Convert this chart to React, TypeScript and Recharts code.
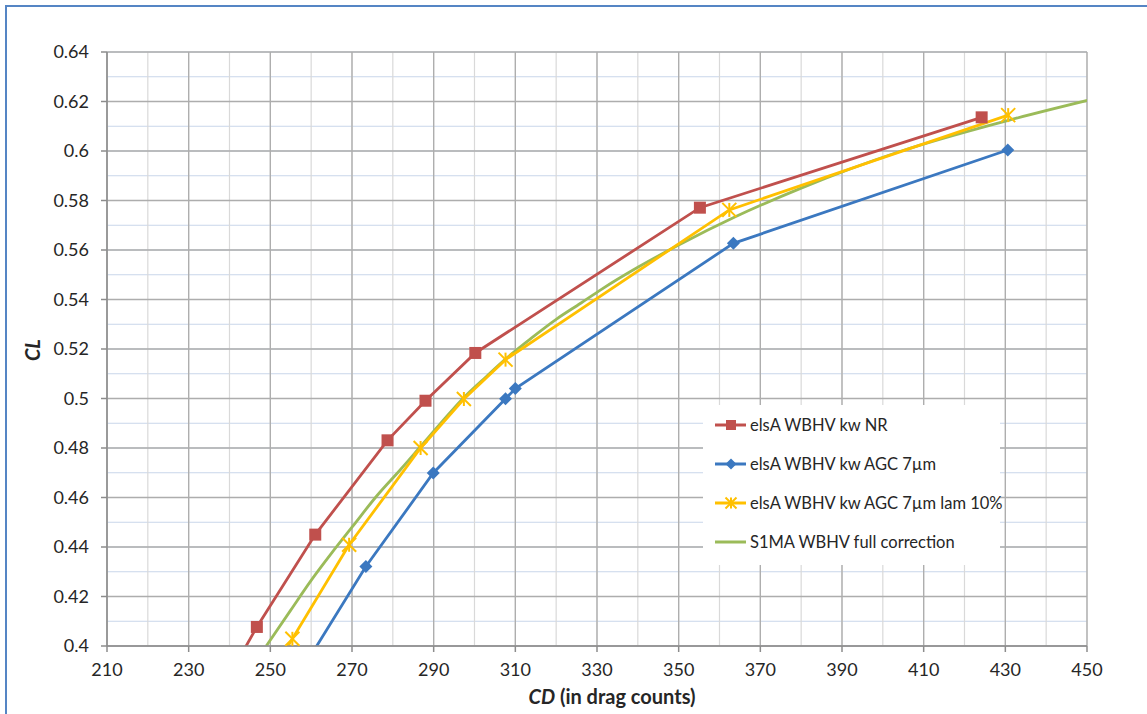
import React from "react";
import { CartesianGrid, Label, Legend, Line, LineChart, XAxis, YAxis } from "recharts";

// CD (drag counts) / CL pairs; first point of each marked series sits below 0.4 and is clipped
const nrCD = [233.8, 246.7, 261.0, 278.7, 288.0, 300.2, 355.2, 424.2];
const nrCL = [0.37, 0.4077, 0.445, 0.4831, 0.4991, 0.5184, 0.5771, 0.6136];

const agcCD = [250.1, 273.4, 289.9, 307.6, 310.0, 363.4, 430.6];
const agcCL = [0.37, 0.4321, 0.4699, 0.4999, 0.504, 0.5627, 0.6004];

const lamCD = [243.3, 255.4, 269.3, 286.8, 297.4, 307.6, 362.4, 430.7];
const lamCL = [0.37, 0.4029, 0.4409, 0.48, 0.4998, 0.5157, 0.5762, 0.6145];

const s1maCD = [249.0, 255, 260, 265, 270, 276, 282, 287, 292, 297, 303, 308, 314, 320, 326, 331, 340, 350, 364, 380, 404, 431, 450.5];
const s1maCL = [0.4, 0.4145, 0.4265, 0.4375, 0.448, 0.4605, 0.4715, 0.481, 0.4905, 0.4997, 0.509, 0.5165, 0.5245, 0.532, 0.5385, 0.544, 0.553, 0.562, 0.5735, 0.585, 0.5997, 0.6125, 0.6206];

const xTicks = [210, 230, 250, 270, 290, 310, 330, 350, 370, 390, 410, 430, 450];
const yTicks = [0.4, 0.42, 0.44, 0.46, 0.48, 0.5, 0.52, 0.54, 0.56, 0.58, 0.6, 0.62, 0.64];
const xMinor = Array.from({ length: 49 }, (_, i) => 210 + i * 5);
const yMinor = Array.from({ length: 49 }, (_, i) => +(0.4 + i * 0.005).toFixed(3));

const toPoints = (cd: number[], cl: number[]) => cd.map((x, i) => ({ cd: x, cl: cl[i] }));

const RED = "#c0504d";
const BLUE = "#3b78c0";
const GOLD = "#ffc000";
const GREEN = "#9bbb59";
const FONT = "Lato, 'Open Sans', sans-serif";

const SquareDot = ({ cx, cy, size = 12 }: any) =>
  cx == null ? <g /> : <rect x={cx - size / 2} y={cy - size / 2} width={size} height={size} fill={RED} />;

const DiamondDot = ({ cx, cy, r = 6.5 }: any) =>
  cx == null ? <g /> : (
    <polygon points={`${cx},${cy - r} ${cx + r},${cy} ${cx},${cy + r} ${cx - r},${cy}`} fill={BLUE} />
  );

const StarDot = ({ cx, cy, r = 7 }: any) =>
  cx == null ? <g /> : (
    <g stroke={GOLD} strokeWidth={2}>
      <line x1={cx - r} y1={cy - r} x2={cx + r} y2={cy + r} />
      <line x1={cx - r} y1={cy + r} x2={cx + r} y2={cy - r} />
      <line x1={cx} y1={cy - r} x2={cx} y2={cy + r} />
    </g>
  );

const series = [
  { name: "elsA WBHV kw NR", color: RED, dot: SquareDot },
  { name: "elsA WBHV kw AGC 7µm", color: BLUE, dot: DiamondDot },
  { name: "elsA WBHV kw AGC 7µm lam 10%", color: GOLD, dot: StarDot },
  { name: "S1MA WBHV full correction", color: GREEN, dot: null },
];

const LegendBox = () => (
  <div style={{ background: "#fff", padding: "0 0 0 12px", boxSizing: "border-box", width: 297, height: 160 }}>
    {series.map((s) => {
      const Dot = s.dot as any;
      return (
        <div key={s.name} style={{ display: "flex", alignItems: "center", height: 39, whiteSpace: "nowrap", fontFamily: FONT, fontSize: 16.5, color: "#262626" }}>
          <svg width={32} height={16} style={{ marginRight: 3, flex: "none" }}>
            <line x1={0} y1={8} x2={31} y2={8} stroke={s.color} strokeWidth={3} />
            {Dot ? <Dot cx={16} cy={8} size={10} r={5.5} /> : null}
          </svg>
          <span>{s.name}</span>
        </div>
      );
    })}
  </div>
);

export default function App() {
  return (
    <div style={{ position: "fixed", left: 0, top: 0, width: 1147, height: 714, overflow: "hidden", background: "#fff" }}>
      <div style={{ position: "absolute", left: 5, top: 5, width: 1200, height: 800, border: "2px solid #5585c4" }} />
      <LineChart width={1147} height={714} margin={{ top: 52, right: 60, bottom: 18, left: 47 }} style={{ position: "absolute", left: 0, top: 0 }}>
        <XAxis xAxisId="minor" type="number" dataKey="cd" domain={[210, 450]} ticks={xMinor} hide allowDataOverflow />
        <YAxis yAxisId="minor" type="number" domain={[0.4, 0.64]} ticks={yMinor} hide allowDataOverflow />
        <CartesianGrid xAxisId="minor" yAxisId="minor" vertical={false} stroke="#c9d6ea" strokeWidth={1.2} />
        <CartesianGrid xAxisId="minor" yAxisId="minor" horizontal={false} stroke="#d9d9d9" strokeWidth={1.2} />
        <CartesianGrid stroke="#adadad" strokeWidth={1.3} />
        <XAxis
          type="number"
          dataKey="cd"
          domain={[210, 450]}
          ticks={xTicks}
          allowDataOverflow
          height={50}
          tickSize={6}
          tickMargin={11}
          stroke="#8c8c8c"
          strokeWidth={1.5}
          tick={{ fill: "#262626", fontSize: 18, fontFamily: FONT }}
        >
          <Label
            content={() => (
              <text x={612} y={704} textAnchor="middle" fontFamily={FONT} fontSize={20} fontWeight="bold" fill="#262626">
                <tspan fontStyle="italic">CD</tspan> (in drag counts)
              </text>
            )}
          />
        </XAxis>
        <YAxis
          type="number"
          domain={[0.4, 0.64]}
          ticks={yTicks}
          allowDataOverflow
          width={60}
          tickSize={6}
          tickMargin={12}
          stroke="#8c8c8c"
          strokeWidth={1.5}
          tick={{ fill: "#262626", fontSize: 18, fontFamily: FONT }}
        >
          <Label
            content={() => (
              <text x={40} y={350} transform="rotate(-90 40 350)" textAnchor="middle" fontFamily={FONT} fontSize={20} fontWeight="bold" fontStyle="italic" fill="#262626">
                CL
              </text>
            )}
          />
        </YAxis>
        <Line data={toPoints(s1maCD, s1maCL)} dataKey="cl" name={series[3].name} type="monotone" stroke={GREEN} strokeWidth={2.8} dot={false} isAnimationActive={false} />
        <Line data={toPoints(lamCD, lamCL)} dataKey="cl" name={series[2].name} type="linear" stroke={GOLD} strokeWidth={2.8} dot={(p: any) => <StarDot key={p.index} cx={p.cx} cy={p.cy} />} isAnimationActive={false} />
        <Line data={toPoints(agcCD, agcCL)} dataKey="cl" name={series[1].name} type="linear" stroke={BLUE} strokeWidth={2.8} dot={(p: any) => <DiamondDot key={p.index} cx={p.cx} cy={p.cy} />} isAnimationActive={false} />
        <Line data={toPoints(nrCD, nrCL)} dataKey="cl" name={series[0].name} type="linear" stroke={RED} strokeWidth={2.8} dot={(p: any) => <SquareDot key={p.index} cx={p.cx} cy={p.cy} />} isAnimationActive={false} />
        <Legend
          layout="vertical"
          align="center"
          verticalAlign="middle"
          content={() => <LegendBox />}
          wrapperStyle={{ position: "absolute", left: 703, top: 405, width: 297, height: 160 }}
        />
      </LineChart>
    </div>
  );
}
